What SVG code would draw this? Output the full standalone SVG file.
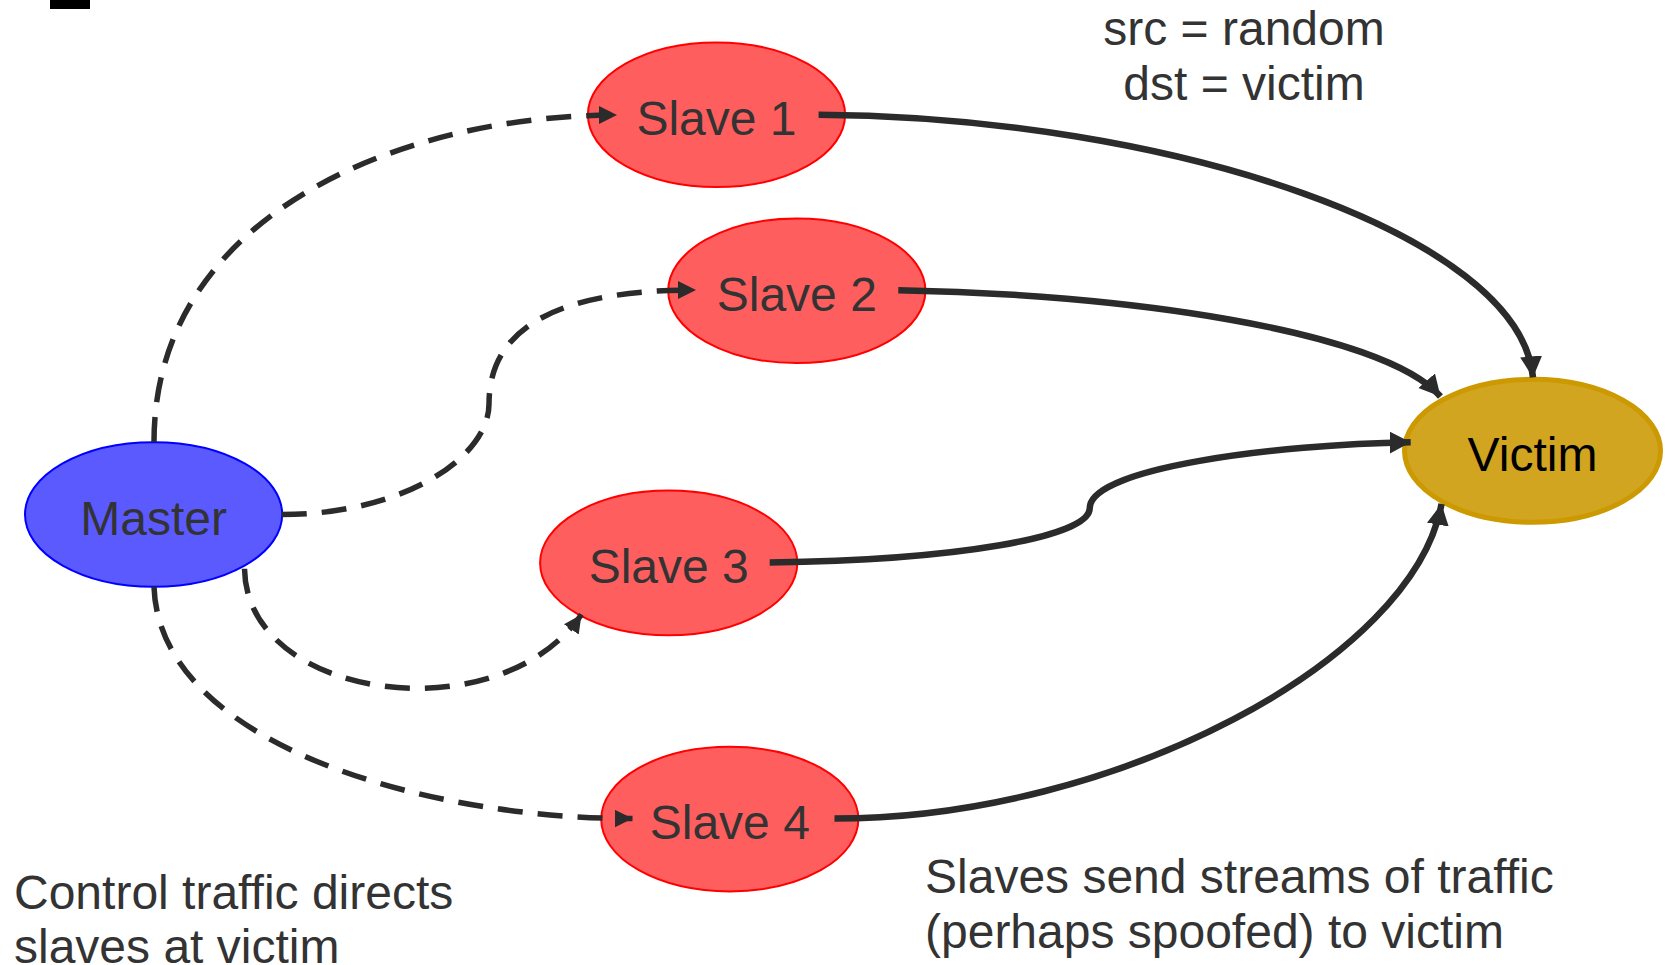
<svg xmlns="http://www.w3.org/2000/svg" width="1667" height="965" viewBox="0 0 1667 965">
<style>
  text { font-family: "Liberation Sans", Arial, sans-serif; font-size: 48px; fill: #333333; }
  .lbl { text-anchor: middle; }
  .slave { fill: #FF5E5E; stroke: #FF0000; stroke-width: 2; }
  .master { fill: #5A5AFF; stroke: #0000FF; stroke-width: 2; }
  .victim { fill: #D2A521; stroke: #CC9900; stroke-width: 5; }
  .dash { fill: none; stroke: #2B2B2B; stroke-width: 5.5; stroke-dasharray: 25 15; marker-end: url(#ad); }
  .solid { fill: none; stroke: #2B2B2B; stroke-width: 6.5; marker-end: url(#as); }
</style>
<defs>
  <marker id="ad" markerUnits="userSpaceOnUse" markerWidth="20" markerHeight="20" refX="18" refY="9" orient="auto">
    <path d="M0,0 L18,9 L0,18 z" fill="#2B2B2B"/>
  </marker>
  <marker id="as" markerUnits="userSpaceOnUse" markerWidth="24" markerHeight="24" refX="21" refY="11" orient="auto">
    <path d="M0,0 L21,11 L0,22 z" fill="#2B2B2B"/>
  </marker>
</defs>
<rect x="50" y="0" width="40" height="9" fill="#000000"/>
<g id="nodes">
  <g id="slave1"><ellipse class="slave" cx="716.5" cy="114.8" rx="128.6" ry="72.3"/><text class="lbl" x="716.5" y="135">Slave 1</text></g>
  <g id="slave2"><ellipse class="slave" cx="796.8" cy="290.8" rx="128.6" ry="72.3"/><text class="lbl" x="796.8" y="311">Slave 2</text></g>
  <g id="slave3"><ellipse class="slave" cx="668.7" cy="562.9" rx="128.6" ry="72.3"/><text class="lbl" x="668.7" y="583">Slave 3</text></g>
  <g id="slave4"><ellipse class="slave" cx="729.8" cy="819.1" rx="128.6" ry="72.3"/><text class="lbl" x="729.8" y="839">Slave 4</text></g>
  <g id="master"><ellipse class="master" cx="153.6" cy="514.5" rx="128.6" ry="72.3"/><text class="lbl" x="153.6" y="535">Master</text></g>
  <g id="victim"><ellipse class="victim" cx="1532.5" cy="450.8" rx="128" ry="71.5"/><text class="lbl" x="1532.5" y="471" style="fill:#000000">Victim</text></g>
</g>
<g id="connectors">
  <path class="dash" d="M154,442 C154,213 404,115 617,115"/>
  <path class="dash" d="M281.7,514.5 C404,514.5 489,457 489,404 C489,319 574,290 696,290"/>
  <path class="dash" d="M244.5,568.8 C246.6,701.6 499.7,733.5 581.5,614.5"/>
  <path class="dash" d="M154,586.8 C159.5,744 425,818.6 632.5,818.6"/>
  <path class="solid" d="M818.6,114.8 C1169.4,117 1520.2,233.9 1533,377.4"/>
  <path class="solid" d="M898.3,290.2 C1116.3,293.4 1382,329.6 1440.5,396.5"/>
  <path class="solid" d="M769.7,562.4 C956.8,560.2 1089.7,536.9 1089.7,508.2 C1089.7,467.8 1275.7,444.4 1410.7,442.2"/>
  <path class="solid" d="M834.5,818.6 C1116.3,818.6 1413.9,659.1 1441.5,503.9"/>
</g>
<g id="labels">
  <text class="lbl" x="1244" y="45">src = random</text>
  <text class="lbl" x="1244" y="100">dst = victim</text>
  <text x="14" y="909">Control traffic directs</text>
  <text x="14" y="963">slaves at victim</text>
  <text x="925" y="893">Slaves send streams of traffic</text>
  <text x="925" y="948">(perhaps spoofed) to victim</text>
</g>
</svg>
